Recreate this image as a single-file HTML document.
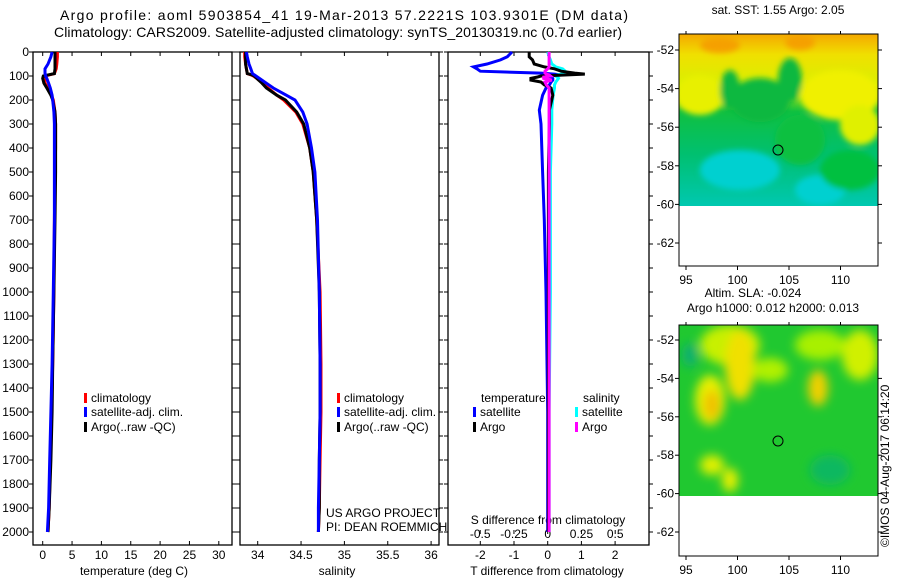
<!DOCTYPE html>
<html><head><meta charset="utf-8">
<style>
html,body{margin:0;padding:0;background:#fff}
svg{display:block;font-family:"Liberation Sans",sans-serif}
text{fill:#000}
</style></head>
<body>
<svg id="chart" width="900" height="580" viewBox="0 0 900 580" xmlns="http://www.w3.org/2000/svg">
<defs>
<filter id="blur4" x="-50%" y="-50%" width="200%" height="200%"><feGaussianBlur stdDeviation="5"/></filter>
<filter id="blur2" x="-50%" y="-50%" width="200%" height="200%"><feGaussianBlur stdDeviation="3"/></filter>
<clipPath id="clip1"><rect x="679" y="34" width="199" height="172"/></clipPath>
<clipPath id="clip2"><rect x="679" y="325" width="199" height="171"/></clipPath>
<linearGradient id="sstg" x1="0" y1="0" x2="0" y2="1">
<stop offset="0" stop-color="#f5a800"/><stop offset="0.12" stop-color="#f0e000"/><stop offset="0.3" stop-color="#d8f000"/>
<stop offset="0.45" stop-color="#10c040"/><stop offset="0.7" stop-color="#00c070"/><stop offset="1" stop-color="#00c8b0"/></linearGradient>
</defs>
<text x="60" y="20" font-size="14" textLength="568" lengthAdjust="spacing">Argo profile: aoml 5903854_41 19-Mar-2013 57.2221S 103.9301E (DM data)</text>
<text x="54" y="37" font-size="14" textLength="568" lengthAdjust="spacing">Climatology: CARS2009. Satellite-adjusted climatology: synTS_20130319.nc (0.7d earlier)</text>

<g id="p1"></g>
<g id="p2"></g>
<g id="p3"></g>

<g>
<text x="778" y="14" font-size="12" text-anchor="middle">sat. SST: 1.55 Argo: 2.05</text>
<g clip-path="url(#clip1)">
<rect x="679" y="34" width="199" height="172" fill="url(#sstg)"/>
<g filter="url(#blur2)">
<ellipse cx="700" cy="95" rx="25" ry="20" fill="#e8f000"/>
<ellipse cx="840" cy="95" rx="40" ry="25" fill="#f0f000"/>
<ellipse cx="860" cy="125" rx="20" ry="20" fill="#e0f000"/>
<ellipse cx="760" cy="100" rx="30" ry="22" fill="#10b840"/>
<ellipse cx="730" cy="90" rx="10" ry="20" fill="#10b840"/>
<ellipse cx="790" cy="80" rx="12" ry="22" fill="#10b840"/>
<ellipse cx="740" cy="170" rx="40" ry="20" fill="#00d0d0"/>
<ellipse cx="820" cy="190" rx="25" ry="15" fill="#00d0d0"/>
<ellipse cx="850" cy="170" rx="30" ry="20" fill="#00c040"/>
<ellipse cx="800" cy="140" rx="25" ry="25" fill="#10c040"/>
<ellipse cx="720" cy="45" rx="20" ry="8" fill="#f5a000"/>
<ellipse cx="800" cy="42" rx="15" ry="8" fill="#f5a000"/>
</g></g>
<rect x="679" y="34" width="199" height="232" fill="none" stroke="#000"/>
<circle cx="778" cy="150" r="5" fill="none" stroke="#000"/>
<g id="m1axes"></g>
</g>

<g>
<text x="753" y="297" font-size="12" text-anchor="middle">Altim. SLA: -0.024</text>
<text x="773" y="312" font-size="12" text-anchor="middle">Argo h1000: 0.012 h2000: 0.013</text>
<g clip-path="url(#clip2)">
<rect x="679" y="325" width="199" height="171" fill="#20c830"/>
<g filter="url(#blur4)">
<ellipse cx="730" cy="345" rx="30" ry="20" fill="#c8f000"/>
<ellipse cx="740" cy="365" rx="15" ry="35" fill="#f0e000"/>
<ellipse cx="710" cy="400" rx="15" ry="25" fill="#e8f000"/>
<ellipse cx="712" cy="405" rx="8" ry="15" fill="#f0c000"/>
<ellipse cx="820" cy="345" rx="25" ry="15" fill="#a8f000"/>
<ellipse cx="860" cy="355" rx="18" ry="25" fill="#d0f000"/>
<ellipse cx="818" cy="388" rx="10" ry="18" fill="#f0d000"/>
<ellipse cx="770" cy="370" rx="18" ry="12" fill="#b0f000"/>
<ellipse cx="712" cy="465" rx="12" ry="10" fill="#e0f000"/>
<ellipse cx="730" cy="480" rx="8" ry="12" fill="#e8f000"/>
<ellipse cx="690" cy="355" rx="8" ry="12" fill="#10b070"/>
<ellipse cx="830" cy="470" rx="20" ry="15" fill="#10b860"/>
</g></g>
<rect x="679" y="325" width="199" height="231" fill="none" stroke="#000"/>
<circle cx="778" cy="441" r="5" fill="none" stroke="#000"/>
<g id="m2axes"></g>
</g>
<text transform="translate(889,547) rotate(-90)" font-size="12">©IMOS 04-Aug-2017 06:14:20</text>

<text x="326" y="517" font-size="12">US ARGO PROJECT</text>
<text x="326" y="531" font-size="12">PI: DEAN ROEMMICH</text>
</svg>
<script>
// ---- data ----
const depths = [0,20,50,70,90,95,100,110,130,150,180,200,250,300,400,500,700,1000,1300,1500,1700,1900,2000];
const tClim = [2.5,2.5,2.4,2.3,2.0,1.2,0.4,0.3,0.4,0.9,1.5,1.8,2.1,2.2,2.2,2.1,2.0,1.9,1.7,1.5,1.3,1.1,0.9];
const tArgo = [2.1,2.1,2.1,2.1,2.0,1.0,0.1,0.0,0.2,0.7,1.4,1.7,2.1,2.2,2.2,2.2,2.1,1.9,1.7,1.6,1.4,1.1,0.9];
const tSat  = [1.6,1.4,0.9,0.4,0.4,0.5,0.5,0.7,1.0,1.3,1.6,1.7,1.9,2.0,2.0,2.0,2.0,1.8,1.6,1.4,1.2,1.0,0.8];
const sClim = [33.85,33.85,33.86,33.87,33.88,33.92,33.95,33.99,34.06,34.12,34.22,34.30,34.44,34.52,34.60,34.64,34.68,34.72,34.73,34.73,34.72,34.71,34.70];
const sArgo = [33.86,33.86,33.86,33.87,33.88,33.93,33.96,33.99,34.05,34.10,34.22,34.32,34.45,34.53,34.60,34.64,34.68,34.71,34.72,34.72,34.71,34.71,34.70];
const sSat  = [33.87,33.88,33.90,33.92,33.94,33.96,33.98,34.02,34.10,34.18,34.33,34.43,34.52,34.57,34.62,34.66,34.69,34.71,34.72,34.72,34.71,34.70,34.70];
const dDepths = [0,20,33,50,62,70,80,88,92,96,100,104,110,117,125,137,150,180,242,300,500,700,1000,1500,2000];
const tdSat  = [-1.06,-1.2,-1.4,-1.8,-2.2,-2.1,-2.0,-0.2,0.2,0.4,0.0,0.1,0.15,0.15,0.1,0.05,-0.05,-0.15,-0.25,-0.2,-0.15,-0.1,-0.05,0,0];
const tdArgo = [-0.55,-0.55,-0.45,-0.4,-0.1,0.2,0.4,0.8,1.1,0.5,-0.2,-0.3,-0.5,-0.5,-0.2,-0.1,0.1,0.15,0.05,0.05,0.02,0.02,0.02,0.02,0.02];
const sdSat  = [0,0.01,0.02,0.03,0.06,0.11,0.13,0.12,0.1,0.07,0.06,0.07,0.08,0.07,0.06,0.05,0.05,0.04,0.03,0.03,0.02,0.02,0.02,0.01,0.01];
const sdArgo = [0.01,0.01,0.01,0.01,0.01,0.0,-0.02,-0.02,-0.01,0.01,0.02,-0.03,-0.03,0.03,-0.02,-0.01,0.01,0.01,0.01,0.01,0.01,0.01,0.01,0.01,0.01];
const depthTicks = [0,100,200,300,400,500,600,700,800,900,1000,1100,1200,1300,1400,1500,1600,1700,1800,1900,2000];
const tTicks = [0,5,10,15,20,25,30];
const sTicks = [34,34.5,35,35.5,36];
const sTickLabels = ["34","34.5","35","35.5","36"];
const tdTicks = [-2,-1,0,1,2];
const sdTicks = [-0.5,-0.25,0,0.25,0.5];
const sdTickLabels = ["-0.5","-0.25","0","0.25","0.5"];
const lonTicks = [95,100,105,110];
const latTicks = [-52,-54,-56,-58,-60,-62];

// ---- axes ----
const NS = "http://www.w3.org/2000/svg";
const yD = d => 52 + d*0.24;
const xT = t => 42.7 + t*5.87;
const xS = s => 257.7 + (s-34)*86.7;
const xTd = t => 547.7 + t*33.7;
const xSd = s => 547.7 + s*135;
const lonX = l => 686 + (l-95)*10.3;
const latY1 = l => 50 + (-52-l)*19.3;
const latY2 = l => 340 + (-52-l)*19.2;

function mk(tag, attrs, parent){const e=document.createElementNS(NS,tag);for(const k in attrs)e.setAttribute(k,attrs[k]);parent.appendChild(e);return e;}
function txt(s,x,y,anchor,size,parent){const e=mk('text',{x:x,y:y,'text-anchor':anchor,'font-size':size},parent);e.textContent=s;return e;}

function panel(g,x0,x1,name){
  const box=mk('rect',{x:x0,y:52,width:x1-x0,height:493,fill:'none',stroke:'#000','stroke-width':1.3},g);
  
  
  depthTicks.forEach(d=>{
    mk('line',{x1:x0-4,x2:x0,y1:yD(d),y2:yD(d),stroke:'#000'},g);
    mk('line',{x1:x1,x2:x1+4,y1:yD(d),y2:yD(d),stroke:'#000'},g);
  });
}
function line(g,xs,ds,xf,color,w,name){
  const pts=xs.map((v,i)=>xf(v).toFixed(1)+','+yD(ds[i]).toFixed(1)).join(' ');
  const p=mk('polyline',{points:pts,fill:'none',stroke:color,'stroke-width':w,'stroke-linejoin':'miter'},g);
  
  
}
function legend(g,x,y,color,label,name){
  mk('rect',{x:x,y:y-9,width:3,height:10,fill:color},g);
  const t=txt(label,x+7,y,'start',12,g);
  
  
}

// panel 1
const p1=document.getElementById('p1');
panel(p1,33,232,'temperature-panel');
depthTicks.forEach(d=>{const t=txt(String(d),29,yD(d)+4,'end',12,p1);
  
  });
tTicks.forEach(t=>{mk('line',{x1:xT(t),x2:xT(t),y1:545,y2:541,stroke:'#000'},p1);mk('line',{x1:xT(t),x2:xT(t),y1:52,y2:56,stroke:'#000'},p1);
  const l=txt(String(t),xT(t),559,'middle',12,p1);
  
  });
const xt1=txt('temperature (deg C)',134,575,'middle',12,p1);


line(p1,tClim,depths,xT,'#f00',3,'temperature-climatology-line');
line(p1,tArgo,depths,xT,'#000',3,'temperature-argo-line');
line(p1,tSat,depths,xT,'#00f',3,'temperature-satellite-line');
legend(p1,84,402,'#f00','climatology','legend-climatology');
legend(p1,84,416,'#00f','satellite-adj. clim.','legend-satellite-adj');
legend(p1,84,431,'#000','Argo(..raw -QC)','legend-argo');

// panel 2
const p2=document.getElementById('p2');
panel(p2,240,439,'salinity-panel');
sTicks.forEach((s,i)=>{mk('line',{x1:xS(s),x2:xS(s),y1:545,y2:541,stroke:'#000'},p2);mk('line',{x1:xS(s),x2:xS(s),y1:52,y2:56,stroke:'#000'},p2);
  const l=txt(sTickLabels[i],xS(s),559,'middle',12,p2);
  
  });
const xt2=txt('salinity',337,575,'middle',12,p2);


line(p2,sClim,depths,xS,'#f00',3,'salinity-climatology-line');
line(p2,sArgo,depths,xS,'#000',3,'salinity-argo-line');
line(p2,sSat,depths,xS,'#00f',3,'salinity-satellite-line');
legend(p2,337,402,'#f00','climatology','legend-climatology-2');
legend(p2,337,416,'#00f','satellite-adj. clim.','legend-satellite-adj-2');
legend(p2,337,431,'#000','Argo(..raw -QC)','legend-argo-2');

// panel 3
const p3=document.getElementById('p3');
panel(p3,448,649,'difference-panel');
tdTicks.forEach(t=>{mk('line',{x1:xTd(t),x2:xTd(t),y1:545,y2:541,stroke:'#000'},p3);mk('line',{x1:xTd(t),x2:xTd(t),y1:52,y2:56,stroke:'#000'},p3);
  const l=txt(String(t),xTd(t),559,'middle',12,p3);
  
  });
sdTicks.forEach((s,i)=>{
  const l=txt(sdTickLabels[i],xSd(s),538,'middle',12,p3);
  
  
  mk('line',{x1:xSd(s),x2:xSd(s),y1:534,y2:530,stroke:'#000'},p3);});
const st3=txt('S difference from climatology',548,524,'middle',12,p3);


const xt3=txt('T difference from climatology',547,575,'middle',12,p3);


line(p3,tdSat,dDepths,xTd,'#00f',3,'t-diff-satellite-line');
line(p3,sdSat,dDepths,xSd,'#0ff',3,'s-diff-satellite-line');
line(p3,tdArgo,dDepths,xTd,'#000',3,'t-diff-argo-line');
line(p3,sdArgo,dDepths,xSd,'#f0f',3,'s-diff-argo-line');
const lt=txt('temperature',481,402,'start',12,p3);


const ls=txt('salinity',583,402,'start',12,p3);


legend(p3,473,416,'#00f','satellite','legend-t-satellite');
legend(p3,473,431,'#000','Argo','legend-t-argo');
legend(p3,575,416,'#0ff','satellite','legend-s-satellite');
legend(p3,575,431,'#f0f','Argo','legend-s-argo');

// map axes
function mapAxes(id,top,bot,latY){
  const g=document.getElementById(id);
  lonTicks.forEach(l=>{
    mk('line',{x1:lonX(l),x2:lonX(l),y1:bot,y2:bot+4,stroke:'#000'},g);
    mk('line',{x1:lonX(l),x2:lonX(l),y1:top,y2:top-3,stroke:'#000'},g);
    const t=txt(String(l),lonX(l),bot+18,'middle',12,g);
    
    
  });
  latTicks.forEach(l=>{
    mk('line',{x1:675,x2:679,y1:latY(l),y2:latY(l),stroke:'#000'},g);
    mk('line',{x1:878,x2:882,y1:latY(l),y2:latY(l),stroke:'#000'},g);
    const t=txt(String(l),674,latY(l)+4,'end',12,g);
    
    
  });
}
mapAxes('m1axes',34,266,latY1);
mapAxes('m2axes',325,556,latY2);
</script>
</body></html>
